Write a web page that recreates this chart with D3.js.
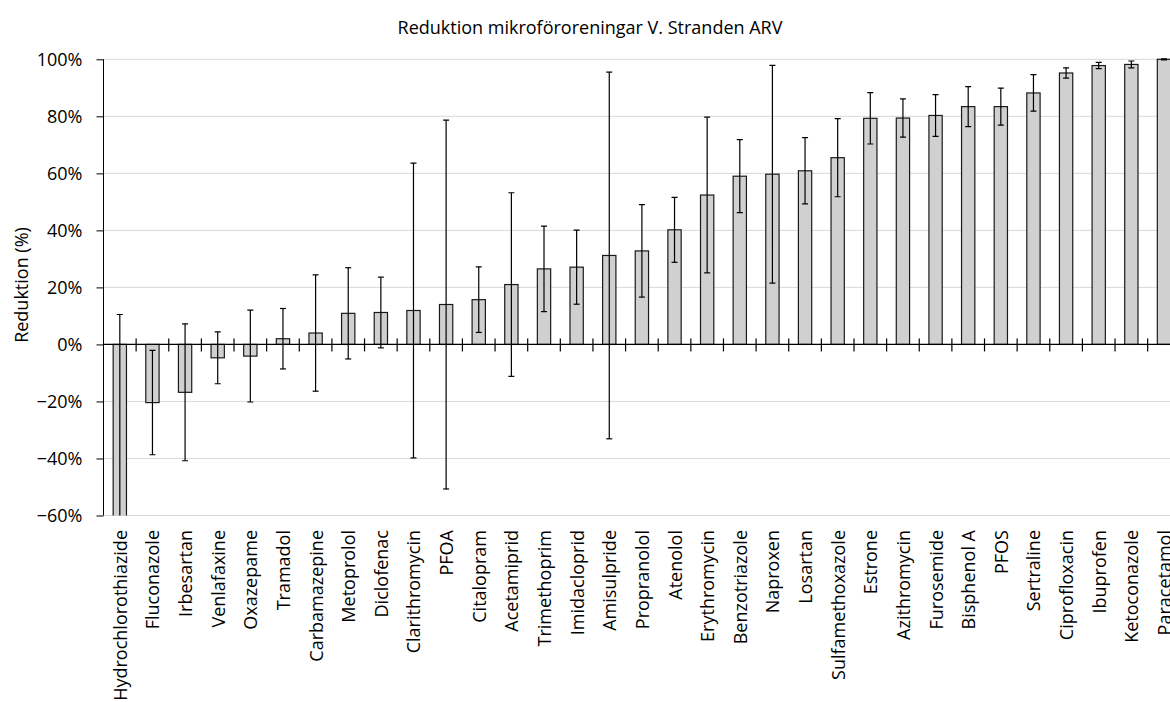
<!DOCTYPE html>
<html>
<head>
<meta charset="utf-8">
<script src="https://cdn.jsdelivr.net/npm/d3@7"></script>
<style>
  body { margin: 0; background: #fff; }
  svg { display: block; overflow: hidden; font-family: "Open Sans", sans-serif; }
</style>
</head>
<body>
<div id="chart"></div>
<script>
// substances, sorted by reduction
const substances = ['Hydrochlorothiazide', 'Fluconazole', 'Irbesartan', 'Venlafaxine', 'Oxazepame',
  'Tramadol', 'Carbamazepine', 'Metoprolol', 'Diclofenac', 'Clarithromycin', 'PFOA', 'Citalopram',
  'Acetamiprid', 'Trimethoprim', 'Imidacloprid', 'Amisulpride', 'Propranolol', 'Atenolol',
  'Erythromycin', 'Benzotriazole', 'Naproxen', 'Losartan', 'Sulfamethoxazole', 'Estrone',
  'Azithromycin', 'Furosemide', 'Bisphenol A', 'PFOS', 'Sertraline', 'Ciprofloxacin', 'Ibuprofen',
  'Ketoconazole', 'Paracetamol'];

// mean reduction (fraction)
const reduction = [-0.72, -0.204, -0.168, -0.047, -0.041, 0.020, 0.040, 0.109, 0.112, 0.119, 0.140,
  0.157, 0.210, 0.265, 0.271, 0.312, 0.328, 0.402, 0.524, 0.590, 0.597, 0.609, 0.655, 0.793,
  0.794, 0.803, 0.834, 0.834, 0.882, 0.952, 0.978, 0.982, 1.0];

// symmetric error (fraction)
const errors = [0.825, 0.183, 0.240, 0.091, 0.161, 0.106, 0.204, 0.160, 0.124, 0.517, 0.647,
  0.115, 0.322, 0.150, 0.130, 0.643, 0.162, 0.114, 0.273, 0.128, 0.382, 0.116, 0.137, 0.090,
  0.067, 0.073, 0.070, 0.065, 0.064, 0.018, 0.011, 0.012, 0.002];

const yTicks = [-0.6, -0.4, -0.2, 0, 0.2, 0.4, 0.6, 0.8, 1.0];

const width = 1170, height = 702;
const plotLeft = 103.5, step = 32.63;
const plotTop = 59.3, plotBottom = 515.5;
const fontSize = 18;

const svg = d3.select('#chart').append('svg')
  .attr('width', width)
  .attr('height', height);

const x = d3.scaleBand()
  .domain(substances)
  .range([plotLeft, plotLeft + step * substances.length])
  .padding(0);

const y = d3.scaleLinear()
  .domain([-0.6, 1.0])
  .range([plotBottom, plotTop]);

const barW = 13.3;

svg.append('clipPath').attr('id', 'plot')
  .append('rect')
  .attr('x', plotLeft).attr('y', plotTop - 2)
  .attr('width', width - plotLeft).attr('height', plotBottom - plotTop + 2);

// gridlines
svg.append('g')
  .selectAll('line')
  .data(yTicks)
  .join('line')
  .attr('x1', plotLeft).attr('x2', width)
  .attr('y1', d => y(d)).attr('y2', d => y(d))
  .attr('stroke', '#d9d9d9')
  .attr('stroke-width', 1);

const plot = svg.append('g').attr('clip-path', 'url(#plot)');

// bars
plot.selectAll('rect.bar')
  .data(substances)
  .join('rect')
  .attr('class', 'bar')
  .attr('x', d => x(d) + x.bandwidth() / 2 - barW / 2)
  .attr('width', barW)
  .attr('y', (d, i) => y(Math.max(0, reduction[i])))
  .attr('height', (d, i) => Math.abs(y(reduction[i]) - y(0)))
  .attr('fill', '#d0d0d0')
  .attr('stroke', '#1a1a1a')
  .attr('stroke-width', 1.2);

// error bars
const eb = plot.selectAll('g.err')
  .data(substances)
  .join('g')
  .attr('class', 'err')
  .attr('stroke', '#000')
  .attr('stroke-width', 1.2);

eb.append('line')
  .attr('x1', d => x(d) + x.bandwidth() / 2)
  .attr('x2', d => x(d) + x.bandwidth() / 2)
  .attr('y1', (d, i) => y(reduction[i] + errors[i]))
  .attr('y2', (d, i) => y(reduction[i] - errors[i]));

[1, -1].forEach(s => {
  eb.append('line')
    .attr('x1', d => x(d) + x.bandwidth() / 2 - 3)
    .attr('x2', d => x(d) + x.bandwidth() / 2 + 3)
    .attr('y1', (d, i) => y(reduction[i] + s * errors[i]))
    .attr('y2', (d, i) => y(reduction[i] + s * errors[i]));
});

// y axis
const yAxis = svg.append('g')
  .attr('transform', `translate(${plotLeft},0)`)
  .call(d3.axisLeft(y).tickValues(yTicks).tickSize(7).tickPadding(14)
    .tickFormat(d3.format('.0%')));
yAxis.select('.domain').attr('d', `M0,${plotTop}V${plotBottom}`).attr('stroke', '#000');
yAxis.selectAll('.tick line').attr('stroke', '#000');
yAxis.selectAll('text')
  .attr('font-size', fontSize)
  .attr('fill', '#000')
  .attr('font-family', '"Open Sans", sans-serif');

// x axis at zero with ticks between categories
const y0 = y(0);
svg.append('line')
  .attr('x1', plotLeft).attr('x2', width)
  .attr('y1', y0).attr('y2', y0)
  .attr('stroke', '#000')
  .attr('stroke-width', 1.2);

svg.append('g')
  .selectAll('line')
  .data(substances)
  .join('line')
  .attr('x1', d => x(d) + x.bandwidth())
  .attr('x2', d => x(d) + x.bandwidth())
  .attr('y1', y0 - 6).attr('y2', y0 + 7)
  .attr('stroke', '#000')
  .attr('stroke-width', 1.2);

// category labels
svg.append('g')
  .selectAll('text')
  .data(substances)
  .join('text')
  .attr('transform', d => `translate(${x(d) + x.bandwidth() / 2 + 7},530) rotate(-90)`)
  .attr('text-anchor', 'end')
  .attr('font-size', fontSize)
  .attr('fill', '#000')
  .text(d => d);

// axis title
svg.append('text')
  .attr('transform', 'translate(28,285) rotate(-90)')
  .attr('text-anchor', 'middle')
  .attr('font-size', fontSize)
  .attr('fill', '#000')
  .text('Reduktion (%)');

// chart title
svg.append('text')
  .attr('x', 590).attr('y', 34)
  .attr('text-anchor', 'middle')
  .attr('font-size', fontSize)
  .attr('fill', '#000')
  .text('Reduktion mikroföroreningar V. Stranden ARV');
</script>
</body>
</html>
